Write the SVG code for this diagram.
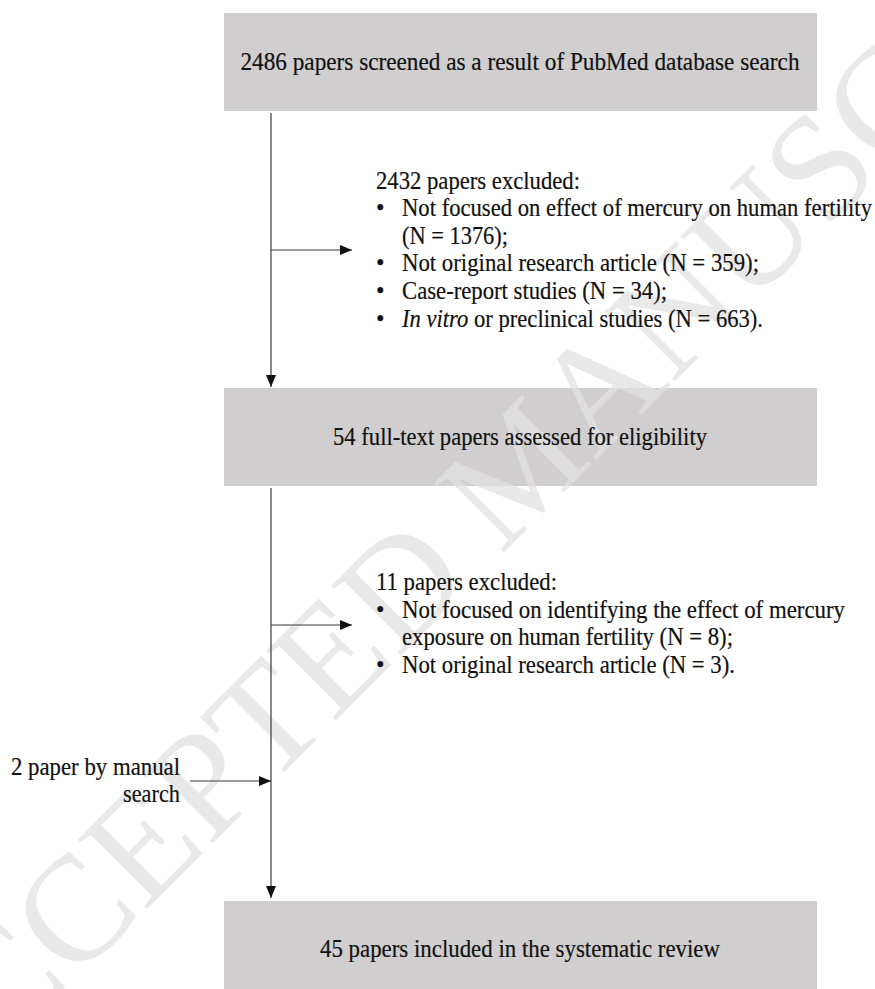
<svg xmlns="http://www.w3.org/2000/svg" width="875" height="989" viewBox="0 0 875 989">
<style>
.box{fill:#d0cecf;}
.t{font-family:"Liberation Serif","Times New Roman",serif;font-size:24.3px;fill:#111111;stroke:#111111;stroke-width:0.2;}
.c{text-anchor:middle;}
.e{text-anchor:end;}
.ln{stroke:#3a3a3a;stroke-width:1.2;fill:none;}
.wm{font-family:"Liberation Serif","Times New Roman",serif;font-size:150px;fill:#e2e2e2;opacity:0.75;}
</style>
<defs>
<marker id="ah" viewBox="0 0 12 10" refX="12" refY="5" markerWidth="12" markerHeight="10" markerUnits="userSpaceOnUse" orient="auto">
<path d="M0,0 L12,5 L0,10 z" fill="#111"/>
</marker>
</defs>
<rect width="875" height="989" fill="#ffffff"/>
<g id="boxes">
<rect class="box" x="224" y="13" width="593" height="98"/>
<rect class="box" x="224" y="388" width="593" height="98"/>
<rect class="box" x="224" y="901" width="593" height="98"/>
</g>
<g id="watermark">
<text class="wm" transform="translate(-74,1130) rotate(-45)">ACCEPTED MANUSCRIPT</text>
</g>
<g id="connectors">
<path class="ln" d="M271,113 L271,387" marker-end="url(#ah)"/>
<path class="ln" d="M271,250 L352,250" marker-end="url(#ah)"/>
<path class="ln" d="M271,488 L271,898" marker-end="url(#ah)"/>
<path class="ln" d="M271,625 L352,625" marker-end="url(#ah)"/>
<path class="ln" d="M190,781 L271,781" marker-end="url(#ah)"/>
</g>
<g id="n1">
<text class="t c" x="520" y="70" textLength="559" lengthAdjust="spacingAndGlyphs">2486 papers screened as a result of PubMed database search</text>
</g>
<g id="x1">
<text class="t" x="376" y="189" textLength="204" lengthAdjust="spacingAndGlyphs">2432 papers excluded:</text>
<text class="t" x="376" y="216">•</text>
<text class="t" x="402" y="216" textLength="470" lengthAdjust="spacingAndGlyphs">Not focused on effect of mercury on human fertility</text>
<text class="t" x="402" y="244" textLength="106" lengthAdjust="spacingAndGlyphs">(N = 1376);</text>
<text class="t" x="376" y="271">•</text>
<text class="t" x="402" y="271" textLength="357" lengthAdjust="spacingAndGlyphs">Not original research article (N = 359);</text>
<text class="t" x="376" y="299">•</text>
<text class="t" x="402" y="299" textLength="265" lengthAdjust="spacingAndGlyphs">Case-report studies (N = 34);</text>
<text class="t" x="376" y="327">•</text>
<text class="t" x="402" y="327" textLength="361" lengthAdjust="spacingAndGlyphs"><tspan font-style="italic">In vitro</tspan> or preclinical studies (N = 663).</text>
</g>
<g id="n2">
<text class="t c" x="520" y="445" textLength="374" lengthAdjust="spacingAndGlyphs">54 full-text papers assessed for eligibility</text>
</g>
<g id="x2">
<text class="t" x="376" y="590" textLength="181" lengthAdjust="spacingAndGlyphs">11 papers excluded:</text>
<text class="t" x="376" y="618">•</text>
<text class="t" x="402" y="618" textLength="443" lengthAdjust="spacingAndGlyphs">Not focused on identifying the effect of mercury</text>
<text class="t" x="402" y="645" textLength="331" lengthAdjust="spacingAndGlyphs">exposure on human fertility (N = 8);</text>
<text class="t" x="376" y="673">•</text>
<text class="t" x="402" y="673" textLength="333" lengthAdjust="spacingAndGlyphs">Not original research article (N = 3).</text>
</g>
<g id="manual">
<text class="t e" x="180" y="775" textLength="169" lengthAdjust="spacingAndGlyphs">2 paper by manual</text>
<text class="t e" x="180" y="802" textLength="57" lengthAdjust="spacingAndGlyphs">search</text>
</g>
<g id="n3">
<text class="t c" x="520" y="957" textLength="400" lengthAdjust="spacingAndGlyphs">45 papers included in the systematic review</text>
</g>
</svg>
